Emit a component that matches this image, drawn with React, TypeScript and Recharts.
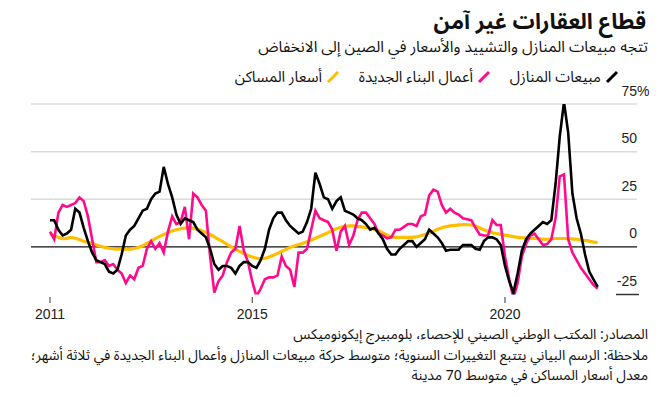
import React from 'react';
import { LineChart, Line, XAxis, YAxis, ReferenceLine } from 'recharts';

// Year-over-year change, 3-month moving average, monthly from Jan 2011
const homeSales = [
  14, 14, 9, 6, 7, 9, 20, 18, 10, 3, -3, -7,
  -8, -9, -13, -14, -12, -4, 6, 9, 11, 15, 19, 20,
  25, 28, 29, 42, 33, 26, 17, 12, 15, 14, 13, 9,
  7, 5, -1, -9, -12, -10, -10, -11, -14, -10, -8, -8,
  -10, -11, -7, -1, 9, 15, 18, 18, 14, 11, 9, 7,
  8, 13, 20, 39, 33, 26, 25, 20, 24, 26, 19, 18,
  17, 15, 14, 12, 9, 10, 7, 4, -1, -4, -4, -1,
  1, 3, 3, 0, 2, 4, 9, 7, 5, 2, -2, -1.5,
  -1.5, -1.5, 1, 1, 1, -1, -1.5, 3, 5, 5, 4, 1,
  -10, -18, -24, -14, -2, 4, 7, 9, 11, 13, 12, 14,
  33, 58, 76, 60, 28, 15, 7, -4, -13, -17, -21,
];

const newConstruction = [
  8, 4, 18, 22, 21, 22, 23, 26, 24, 16, 4, -8,
  -8, -7, -10, -9, -12, -14, -19, -15, -17, -11, -10, -1,
  3, -1, 2, -3, 8, 16, 12, 13, 21, 4, 28, 26,
  22, 19, -5, -24, -18, -15, -8, -3, -1, 11, -2, -8,
  -18, -26, -22, -17, -16, -16, -15, -5, -10, -12, -21, -3,
  -3, -1, 9, 19, 15, 14, 13, 9, -2, 8, 11, 1,
  6, 14, 18, 18, 15, 12, 7, 6, 4.5, 5, 9, 9,
  10.5, 12, 12, 11, 16, 17, 27, 30, 29, 22, 18, 20,
  18, 17, 15, 14.5, 14, 10, 6.5, 6, 6, 14, 11.5, 11.5,
  -5, -17, -27, -19, -5, 1.5, 6, 7, 4, 1, 1.5, 4,
  15, 37, 38, 4, -3, -7, -11, -14, -17, -20, -22,
];

const homePrices = [
  7, 6, 5, 4.3, 4.5, 5, 4.5, 3.8, 3, 2.3, 1.8, 1,
  0.3, -0.3, -0.7, -1, -1.2, -1.2, -1.2, -1.2, -0.8, -0.3, 0.6, 1.8,
  3, 4.3, 5.5, 6.5, 7.5, 8.3, 9, 9.5, 9.8, 10, 9.8, 9.3,
  8.5, 7.5, 6.5, 5.3, 4, 2.8, 1.3, 0, -1.2, -2.4, -3.5, -4.5,
  -5.3, -5.9, -6.2, -6, -5.3, -4.4, -3.4, -2.4, -1.3, -0.3, 0.5, 1.2,
  1.9, 2.7, 3.6, 4.5, 5.5, 6.5, 7.5, 8.5, 9.5, 10.3, 10.8, 11,
  11, 10.8, 10.5, 10.2, 9.8, 9.3, 8.5, 7.3, 6.2, 5.3, 5, 5,
  5, 5, 5, 5.3, 5.8, 6.5, 7.3, 8.2, 9.2, 10, 10.6, 11,
  11.3, 11.5, 11.7, 11.7, 11.5, 11, 10, 9, 8.2, 7.5, 7, 6.6,
  6.2, 5.8, 5.4, 5, 4.8, 4.7, 4.6, 4.5, 4.3, 4.1, 4, 4.2,
  4.4, 4.4, 4.4, 4.3, 4.2, 4, 3.7, 3.4, 3, 2.5, 2.2,
];

const startYear = 2011;
const xTicks = [2011, 2015, 2020];
const yTicks = [-25, 0, 25, 50, 75];

const title = 'قطاع  العقارات غير آمن';
const subtitle = 'تتجه مبيعات المنازل والتشييد والأسعار في الصين إلى الانخفاض';
const seriesNames = ['مبيعات المنازل', 'أعمال البناء الجديدة', 'أسعار المساكن'];
const notes = [
  'المصادر: المكتب الوطني الصيني للإحصاء، بلومبيرج إيكونوميكس',
  'ملاحظة: الرسم البياني يتتبع التغييرات السنوية؛  متوسط  حركة مبيعات المنازل وأعمال البناء الجديدة في ثلاثة أشهر؛',
  'معدل أسعار المساكن  في متوسط 70 مدينة',
];

const COLORS = ['#000000', '#ff0a8c', '#ffbf00'];

const data = homeSales.map((v, i) => ({
  t: startYear + i / 12,
  sales: v,
  construction: newConstruction[i],
  prices: homePrices[i],
}));

const W = 671;
const H = 397;
const arabicFont = '"Noto Sans Arabic", "Noto Sans", "DejaVu Sans", sans-serif';
const numFont = '"Liberation Sans", Arial, sans-serif';

const makeYLabel = (v: number) => (props: any) => {
  const vb = props.viewBox || {};
  const y = vb.y ?? 0;
  const xr = (vb.x ?? 0) + (vb.width ?? 0);
  return (
    <g>
      <text x={xr} y={y - 8.5} textAnchor="end" fontSize={14} fill="#222" fontFamily={numFont}>
        {String(v)}
      </text>
      {v === 75 && (
        <text x={xr} y={y - 8.5} textAnchor="start" fontSize={14} fill="#222" fontFamily={numFont}>
          %
        </text>
      )}
      {v === -25 && <line x1={xr - 21} x2={xr + 2} y1={y} y2={y} stroke="#333" strokeWidth={1.5} />}
    </g>
  );
};

const XTick = (props: any) => {
  const { x, y, payload } = props;
  return (
    <g>
      <line x1={x} x2={x} y1={y + 2.5} y2={y + 8.5} stroke="#333" strokeWidth={1} />
      <text x={x} y={y + 24} textAnchor="middle" fontSize={14} fill="#222" fontFamily={numFont}>
        {String(payload.value)}
      </text>
    </g>
  );
};

const Swatch = ({ color }: { color: string }) => (
  <svg width={14} height={14} style={{ display: 'inline-block', verticalAlign: 'middle' }}>
    <line x1={2} y1={12} x2={12} y2={2} stroke={color} strokeWidth={3} />
  </svg>
);

const lineStroke = (v: number) => (v === 0 ? '#111' : v === -25 ? 'none' : '#dadada');

export default function App() {
  return (
    <div
      style={{
        position: 'absolute',
        left: 0,
        top: 0,
        width: W,
        height: H,
        background: '#fff',
        overflow: 'hidden',
        fontFamily: arabicFont,
        color: '#111',
      }}
    >
      <LineChart
        width={W}
        height={H}
        data={data}
        margin={{ top: 104, right: 34, bottom: 72.5, left: 31 }}
        style={{ position: 'absolute', left: 0, top: 0 }}
      >
        <XAxis
          dataKey="t"
          type="number"
          domain={[2010.6242, 2022.611]}
          allowDataOverflow
          ticks={xTicks}
          tick={<XTick />}
          tickLine={false}
          axisLine={false}
          tickSize={0}
          tickMargin={0}
          height={30}
          interval={0}
        />
        <YAxis hide domain={[-25, 75]} allowDataOverflow ticks={yTicks} />
        {yTicks.map((g) => (
          <ReferenceLine
            key={g}
            y={g}
            stroke={lineStroke(g)}
            strokeWidth={g === 0 ? 1.2 : 1.5}
            label={{ content: makeYLabel(g) }}
          />
        ))}
        <Line dataKey="prices" stroke={COLORS[2]} strokeWidth={3.2} dot={false} type="monotone" isAnimationActive={false} />
        <Line dataKey="construction" stroke={COLORS[1]} strokeWidth={2.6} dot={false} type="linear" isAnimationActive={false} />
        <Line dataKey="sales" stroke={COLORS[0]} strokeWidth={2.6} dot={false} type="linear" isAnimationActive={false} />
      </LineChart>

      <div
        dir="rtl"
        style={{ position: 'absolute', right: 25, top: 7, fontSize: 22, fontWeight: 700, whiteSpace: 'nowrap', lineHeight: '30px' }}
      >
        {title}
      </div>
      <div
        dir="rtl"
        style={{ position: 'absolute', right: 23, top: 36, fontSize: 15.5, whiteSpace: 'nowrap', lineHeight: '22px' }}
      >
        {subtitle}
      </div>

      <div
        dir="rtl"
        style={{ position: 'absolute', right: 52, top: 66, fontSize: 15, whiteSpace: 'nowrap', lineHeight: '22px', display: 'flex' }}
      >
        <span style={{ display: 'inline-flex', alignItems: 'center', width: 128 }}>
          <Swatch color={COLORS[0]} />
          <span style={{ marginRight: 4 }}>{seriesNames[0]}</span>
        </span>
        <span style={{ display: 'inline-flex', alignItems: 'center', width: 151 }}>
          <Swatch color={COLORS[1]} />
          <span style={{ marginRight: 4 }}>{seriesNames[1]}</span>
        </span>
        <span style={{ display: 'inline-flex', alignItems: 'center' }}>
          <Swatch color={COLORS[2]} />
          <span style={{ marginRight: 4 }}>{seriesNames[2]}</span>
        </span>
      </div>

      <div
        dir="rtl"
        style={{ position: 'absolute', right: 23, top: 325, fontSize: 14, whiteSpace: 'nowrap', lineHeight: '20.5px' }}
      >
        {notes.map((n, i) => (
          <div key={i}>{n}</div>
        ))}
      </div>
    </div>
  );
}
